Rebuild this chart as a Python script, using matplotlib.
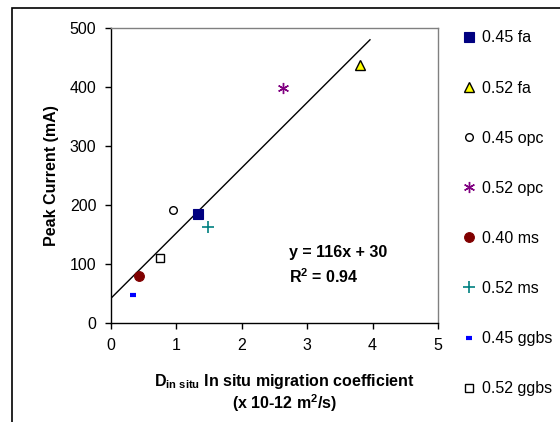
import matplotlib
matplotlib.use("Agg")
import matplotlib.pyplot as plt
from matplotlib.patches import Rectangle

plt.rcParams.update({
    "font.family": ["Liberation Sans", "DejaVu Sans"],
    "font.size": 11.5,
    "mathtext.fontset": "custom",
    "mathtext.rm": "Liberation Sans",
    "mathtext.it": "Liberation Sans:italic",
    "mathtext.bf": "Liberation Sans:bold",
    "xtick.direction": "out", "ytick.direction": "out",
})

# data
labels = ["0.45 fa", "0.52 fa", "0.45 opc", "0.52 opc",
          "0.40 ms", "0.52 ms", "0.45 ggbs", "0.52 ggbs"]
d_insitu = [1.33, 3.81, 0.95, 2.63, 0.43, 1.48, 0.34, 0.75]
peak_current = [185, 437, 191, 398, 80, 162, 47, 110]
trend_x = [0, 3.96]
trend_y = [42, 480]

styles = [
    dict(marker="s", ms=6.5, mfc="#000080", mec="#000080", mew=0.8),
    dict(marker="^", ms=7, mfc="#FFFF00", mec="black", mew=1.0),
    dict(marker="o", ms=5.5, mfc="white", mec="black", mew=1.0),
    dict(marker=(6, 2, 0), ms=8, mfc="none", mec="#800080", mew=1.0),
    dict(marker="o", ms=7, mfc="#800000", mec="#800000", mew=0.8),
    dict(marker="+", ms=8, mfc="none", mec="#008080", mew=1.2),
    dict(marker="_", ms=5, mfc="#0000FF", mec="#0000FF", mew=3),
    dict(marker="s", ms=6, mfc="white", mec="black", mew=1.0),
]

fig = plt.figure(figsize=(5.6, 4.22), dpi=100)
fig.patches.append(Rectangle((12/560, -0.05), 1.0, 1 - 8/422 + 0.05,
                             transform=fig.transFigure, fill=False,
                             edgecolor="black", lw=1.2))
ax = fig.add_axes([111/560, 1 - 323/422, 327/560, 295/422])

ax.plot(trend_x, trend_y, color="black", lw=1.0, zorder=2)
for lab, x, y, st in zip(labels, d_insitu, peak_current, styles):
    ax.plot([x], [y], ls="none", label=lab, zorder=3, **st)

ax.set_xlim(0, 5)
ax.set_ylim(0, 500)
ax.set_xticks(range(0, 6))
ax.set_yticks(range(0, 501, 100))
ax.tick_params(length=4, width=1, pad=6.5, labelsize=11.5)
for s in ["top", "right"]:
    ax.spines[s].set_color("#808080")
for s in ax.spines.values():
    s.set_linewidth(1.0)

ax.text(2.72, 119, "y = 116x + 30", fontweight="bold", va="center", ha="left")
ax.text(2.72, 78, r"R$^{\mathbf{2}}$ = 0.94", fontweight="bold", va="center", ha="left")

ax.set_ylabel("Peak Current (mA)", fontweight="bold", labelpad=8)
ax.set_xlabel(r"$\mathbf{D}_{\mathbf{in\ situ}}$ In situ migration coefficient" + "\n"
              + r"(x 10-12 m$^{\mathbf{2}}$/s)", fontweight="bold", labelpad=14,
              linespacing=1.1)
ax.xaxis.label.set_x(0.53)

fig.legend(loc="upper left", bbox_to_anchor=(456/560, 1 - 24/422),
           frameon=False, handlelength=0.8, handletextpad=0.45,
           labelspacing=2.2, borderaxespad=0, fontsize=11.5)

fig.savefig("out.png", dpi=100)
